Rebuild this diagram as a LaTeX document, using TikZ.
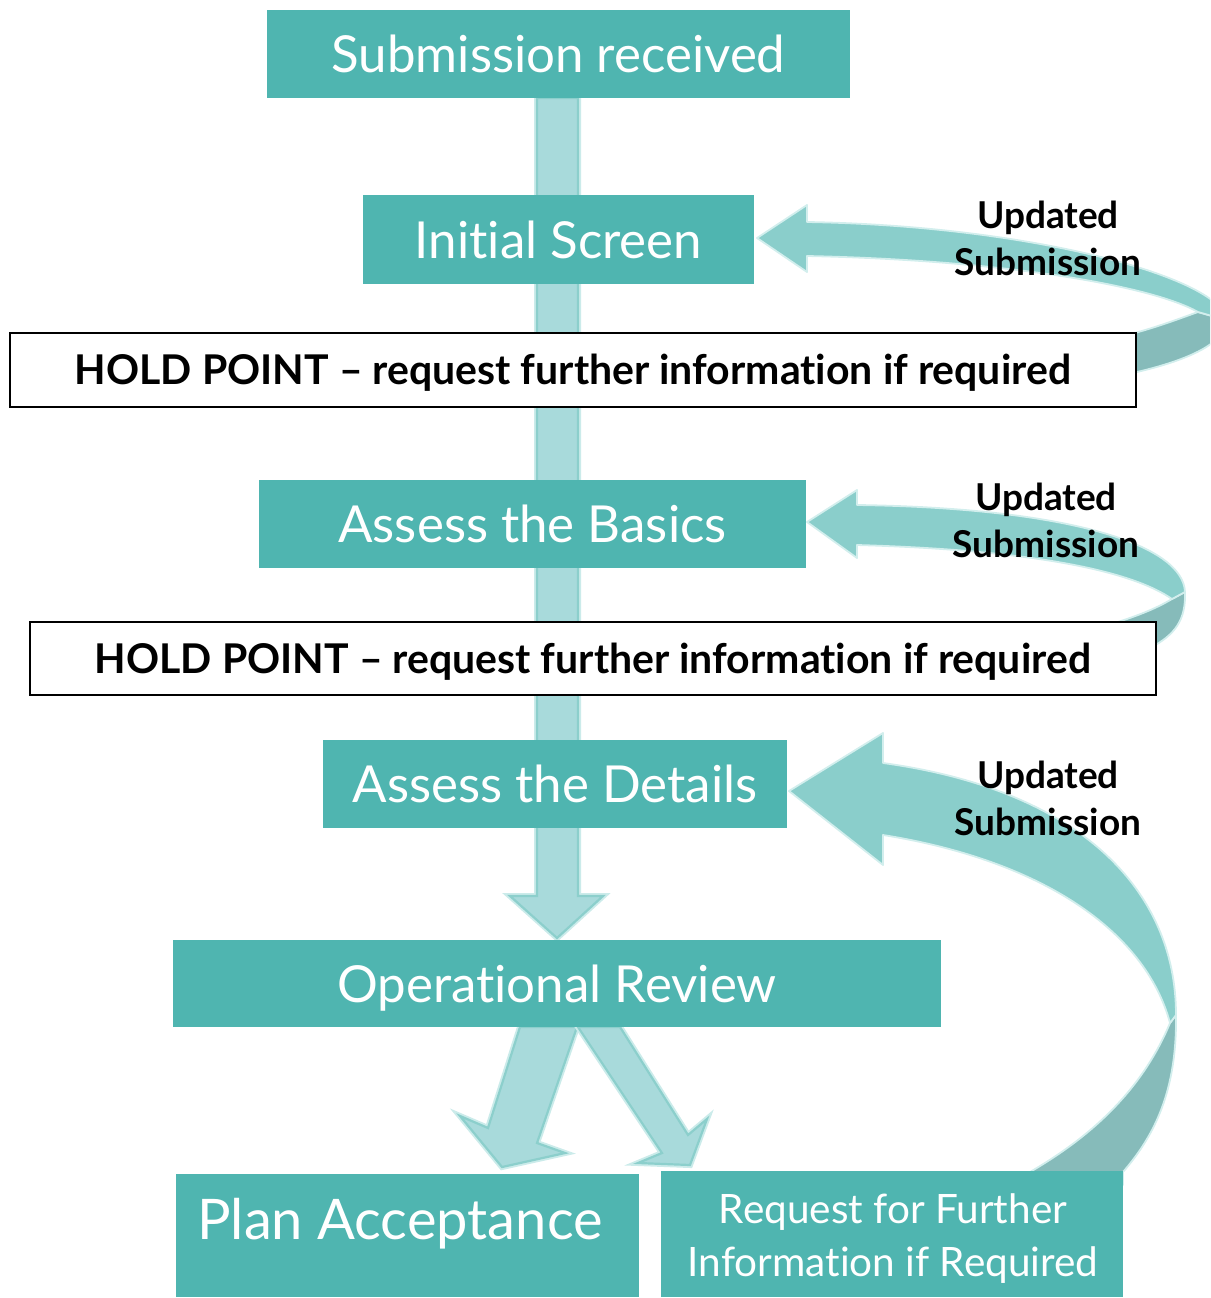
\documentclass[tikz,border=0pt]{standalone}
\usepackage{fontspec}
\setmainfont{Lato}[Ligatures=NoCommon]
\usetikzlibrary{calc}
\definecolor{boxc}{HTML}{4FB5B0}
\definecolor{ribf}{HTML}{8ACECB}
\definecolor{ribb}{HTML}{86BBBA}
\definecolor{ribl}{HTML}{D2EEED}
\definecolor{arrf}{HTML}{A8DADB}
\definecolor{arrd}{HTML}{8CCFCC}
\definecolor{arrg}{HTML}{CBEBEA}
\tikzset{
  tbox/.style={fill=boxc, text=white, inner sep=0pt, font=\fontsize{51}{60}\selectfont},
  hbox/.style={draw=black, line width=1.3pt, fill=white, inner sep=0pt, text height=31pt, text depth=2pt, font=\bfseries\fontsize{41}{48}\selectfont},
  ulabel/.style={font=\bfseries\fontsize{37}{47}\selectfont, align=center, inner sep=0pt},
  ribfront/.style={fill=ribf, draw=ribl, line width=1.8pt, line join=round},
  ribback/.style={fill=ribb, draw=ribl, line width=1.8pt, line join=round},
  bigglow/.style={draw=arrg, line width=6pt, line join=miter},
  bigarrow/.style={fill=arrf, draw=arrd, line width=2.2pt, line join=miter}
}
\begin{document}
\begin{tikzpicture}[x=1pt,y=-1pt]
\useasboundingbox (0,0) rectangle (1210,1298);
\clip (0,0) rectangle (1210,1298);

% main vertical arrow
\path[bigglow] (537,98) -- (578,98) -- (578,896) -- (603,896) -- (557,938) -- (510,896) -- (537,896) -- cycle;
\path[bigarrow] (537,98) -- (578,98) -- (578,896) -- (603,896) -- (557,938) -- (510,896) -- (537,896) -- cycle;

% split arrows
\path[bigglow] (520,1027) -- (577,1027) -- (537,1143) -- (565,1153) -- (502,1167) -- (460,1116) -- (488,1128) -- cycle;
\path[bigarrow] (520,1027) -- (577,1027) -- (537,1143) -- (565,1153) -- (502,1167) -- (460,1116) -- (488,1128) -- cycle;
\path[bigglow] (578,1027) -- (620,1027) -- (688,1135) -- (707,1119) -- (690,1165) -- (638,1163) -- (662,1153) -- cycle;
\path[bigarrow] (578,1027) -- (620,1027) -- (688,1135) -- (707,1119) -- (690,1165) -- (638,1163) -- (662,1153) -- cycle;

% ribbon 1
\path[ribback] (1226,320) .. controls (1227,345) and (1180,362) .. (1137,372) -- (1100,380) -- (1100,342)
   .. controls (1150,330) and (1170,322) .. (1198,312) -- cycle;
\path[ribfront] (757,238) -- (807,205) -- (807,222) .. controls (1040,226) and (1224,280) .. (1226,320)
   -- (1198,312) .. controls (1150,285) and (1000,260) .. (807,256) -- (807,272) -- cycle;

% ribbon 2
\path[ribback] (1185,592) .. controls (1186,620) and (1175,635) .. (1150,648) -- (1100,655) -- (1100,628)
   .. controls (1130,618) and (1150,612) .. (1172,599) -- cycle;
\path[ribfront] (807,522) -- (857,490) -- (857,505) .. controls (1070,508) and (1183,545) .. (1185,592)
   -- (1172,599) .. controls (1130,570) and (1030,550) .. (857,545) -- (857,558) -- cycle;

% ribbon 3
\path[ribback] (1176,1015) .. controls (1177,1090) and (1155,1135) .. (1123,1172) -- (1123,1185) -- (1030,1185) -- (1030,1172)
   .. controls (1085,1140) and (1140,1095) .. (1170,1023) -- cycle;
\path[ribfront] (789,791) -- (883,733) -- (883,763) .. controls (1080,790) and (1176,890) .. (1176,1015)
   -- (1170,1023) .. controls (1145,930) and (1040,860) .. (883,835) -- (883,865) -- cycle;

% boxes
\node[tbox, minimum width=583, minimum height=88] (sub) at (558.5,54) {Submission received};
\node[tbox, minimum width=391, minimum height=89] (init) at (558.5,239.5) {Initial Screen};
\node[hbox, minimum width=1126, minimum height=74] (hold1) at (573,370) {HOLD POINT – request further information if required};
\node[tbox, minimum width=547, minimum height=88] (basic) at (532.5,524) {Assess the Basics};
\node[hbox, minimum width=1126, minimum height=73] (hold2) at (593,658.5) {HOLD POINT – request further information if required};
\node[tbox, minimum width=464, minimum height=88] (det) at (555,784) {Assess the Details};
\node[tbox, minimum width=768, minimum height=87, text height=38pt, text depth=0pt] (ops) at (557,983.5) {Operational Review};
\node[tbox, minimum width=463, minimum height=123] (plan) at (407.5,1235.5) {};
\node[text=white, inner sep=0pt, font=\fontsize{56}{64}\selectfont] (plant) at (400,1224) {Plan Acceptance};
\node[tbox, minimum width=462, minimum height=126] (req) at (892,1234) {};
\node[text=white, inner sep=0pt, align=center, font=\fontsize{40.5}{53}\selectfont] (reqt) at (893,1239) {Request for Further\\Information if Required};

% labels
\node[ulabel] (u1) at (1048,238) {Updated\\Submission};
\node[ulabel] (u2) at (1046,520) {Updated\\Submission};
\node[ulabel] (u3) at (1048,798) {Updated\\Submission};
\end{tikzpicture}
\end{document}
